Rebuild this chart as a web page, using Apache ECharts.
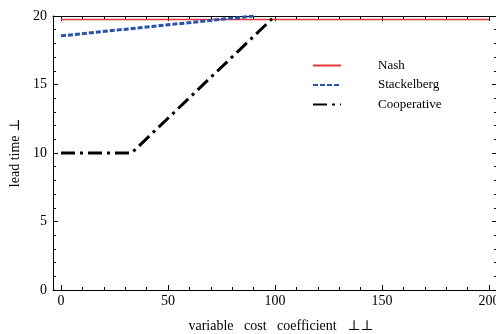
<!DOCTYPE html>
<html>
<head>
<meta charset="utf-8">
<script src="https://cdn.jsdelivr.net/npm/echarts@6/dist/echarts.min.js"></script>
<style>
  html, body { margin: 0; padding: 0; background: #fff; }
  #chart { width: 496px; height: 334px; }
</style>
</head>
<body>
<div id="chart"></div>
<script>
// Lead time against the variable cost coefficient for three decision modes
const seriesNames = ['Nash', 'Stackelberg', 'Cooperative'];
const nashData = [[0, 19.75], [200, 19.75]];
const stackelbergData = [[0, 18.55], [90, 20]];
const cooperativeData = [[0, 10], [33, 10], [100, 20]];

const xMajorTicks = [0, 50, 100, 150, 200];
const xMinorTicks = [10, 20, 30, 40, 60, 70, 80, 90, 110, 120, 130, 140, 160, 170, 180, 190];

const xName = 'variable   cost   coefficient   \u22A5\u22A5';
const yName = 'lead time \u22A5';

const serif = '"Liberation Serif", "DejaVu Serif", serif';
const xMin = -3.74, xMax = 203.74;

const chart = echarts.init(document.getElementById('chart'), null, { renderer: 'canvas' });

function xAxisDef(position, ticks, len, showLine, withLabels) {
  return {
    type: 'value', position: position, min: xMin, max: xMax,
    axisLine: { show: showLine, onZero: false, lineStyle: { color: '#000', width: 1 } },
    axisTick: { show: true, inside: true, length: len, customValues: ticks,
                lineStyle: { color: '#000', width: 1 } },
    axisLabel: withLabels ? { show: true, customValues: ticks, margin: 4,
                fontFamily: serif, fontSize: 14, color: '#000' } : { show: false },
    splitLine: { show: false }
  };
}

const option = {
  animation: false,
  backgroundColor: '#fff',
  grid: { left: 53, top: 16, width: 444, height: 274, containLabel: false, outerBoundsMode: 'none' },
  legend: {
    orient: 'vertical', left: 307, top: 54,
    itemWidth: 28, itemHeight: 14, itemGap: 6.5,
    data: seriesNames,
    itemStyle: { opacity: 0 },
    textStyle: { fontFamily: serif, fontSize: 13, color: '#000', padding: [0, 0, 0, 32] }
  },
  xAxis: [
    Object.assign(xAxisDef('bottom', xMajorTicks, 5, true, true), {
      name: xName, nameLocation: 'middle', nameGap: 29,
      nameTextStyle: { fontFamily: serif, fontSize: 14, color: '#000', padding: [0, 0, 0, 12] }
    }),
    xAxisDef('bottom', xMinorTicks, 3, false, false),
    xAxisDef('top', xMajorTicks, 5, true, false),
    xAxisDef('top', xMinorTicks, 3, false, false)
  ],
  yAxis: [
    {
      type: 'value', position: 'left', min: 0, max: 20, interval: 5,
      name: yName, nameLocation: 'middle', nameGap: 30, nameRotate: 90,
      nameTextStyle: { fontFamily: serif, fontSize: 14, color: '#000' },
      axisLine: { show: true, onZero: false, lineStyle: { color: '#000', width: 1 } },
      axisTick: { show: true, inside: true, length: 5, lineStyle: { color: '#000' } },
      minorTick: { show: true, splitNumber: 5, length: 3, lineStyle: { color: '#000' } },
      axisLabel: { margin: 6, fontFamily: serif, fontSize: 14, color: '#000' },
      splitLine: { show: false }
    },
    {
      type: 'value', position: 'right', min: 0, max: 20, interval: 5,
      axisLine: { show: true, onZero: false, lineStyle: { color: '#000', width: 1 } },
      axisTick: { show: true, inside: true, length: 5, lineStyle: { color: '#000' } },
      minorTick: { show: true, splitNumber: 5, length: 3, lineStyle: { color: '#000' } },
      axisLabel: { show: false },
      splitLine: { show: false }
    }
  ],
  series: [
    {
      name: seriesNames[0], type: 'line', data: nashData, symbol: 'none',
      color: '#e8383d', lineStyle: { color: '#e8383d', width: 1.5, type: 'solid' }
    },
    {
      name: seriesNames[1], type: 'line', data: stackelbergData, symbol: 'none',
      color: '#2a52a8', lineStyle: { color: '#2a52a8', width: 3, type: [5, 2] }
    },
    {
      name: seriesNames[2], type: 'line', data: cooperativeData, symbol: 'none',
      color: '#000', lineStyle: { color: '#000', width: 3, type: [14, 5, 3, 5] }
    }
  ]
};

chart.setOption(option);
</script>
</body>
</html>
